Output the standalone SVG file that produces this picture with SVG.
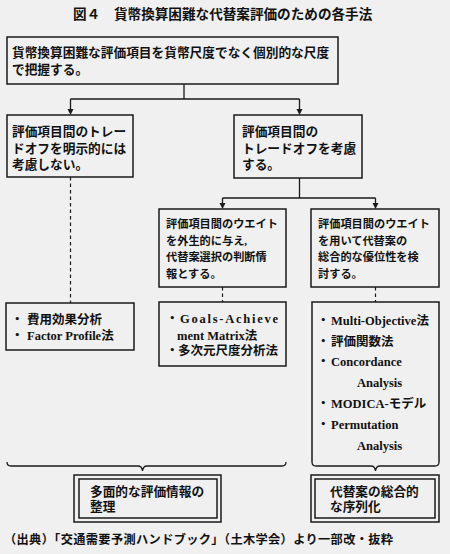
<svg xmlns="http://www.w3.org/2000/svg" width="450" height="554" viewBox="0 0 450 554">
<defs>
<style>
.bx{fill:none;stroke:#1a1a1a;stroke-width:1.5}
.ln{fill:none;stroke:#1a1a1a;stroke-width:1.3}
.ds{fill:none;stroke:#1a1a1a;stroke-width:1.2;stroke-dasharray:3.5,3}
.t{font-family:"Liberation Serif","Noto Sans CJK JP",serif;font-weight:bold;fill:#111}
.j{font-size:12.7px}
.s{font-size:11.2px}
.m{font-size:12.5px}
</style>
</defs>
<rect width="450" height="554" fill="#f0f0f0"/>
<g id="title">
<text class="t" x="73" y="19" font-size="13.6">図４</text>
<text class="t" x="114" y="19" font-size="13.6">貨幣換算困難な代替案評価のための各手法</text>
</g>
<g id="connectors">
<path class="ln" d="M184,84 V99 M70.5,99 H299.5"/>
<path class="ln" d="M70.5,99 V110"/>
<path d="M67.5,109 L73.5,109 L70.5,115 Z" fill="#1a1a1a"/>
<path class="ln" d="M299.5,99 V110"/>
<path d="M296.5,109 L302.5,109 L299.5,115 Z" fill="#1a1a1a"/>
<path class="ln" d="M299.5,178 V198 M222.5,198 H375.5"/>
<path class="ln" d="M222.5,198 V204"/>
<path d="M219.5,203 L225.5,203 L222.5,209 Z" fill="#1a1a1a"/>
<path class="ln" d="M375.5,198 V204"/>
<path d="M372.5,203 L378.5,203 L375.5,209 Z" fill="#1a1a1a"/>
<path class="ds" d="M70.5,177 V303"/>
<path class="ds" d="M222.5,287 V302"/>
<path class="ds" d="M375.5,287 V302"/>
<path class="ln" d="M7,462 Q7,466 11,466 H138 Q142,466 142.5,471 Q143,466 147,466 H282 Q286,466 286,462"/>
<path class="ln" d="M312,462 Q312,466 316,466 H371 Q375,466 375.5,471 Q376,466 380,466 H435 Q439,466 439,462"/>
</g>
<g id="n-top">
<rect class="bx" x="7" y="37" width="331" height="47"/>
<text class="t j" x="12" y="57">貨幣換算困難な評価項目を貨幣尺度でなく個別的な尺度</text>
<text class="t j" x="12" y="74">で把握する。</text>
</g>
<g id="n-left1">
<rect class="bx" x="7" y="115" width="126" height="62"/>
<text class="t j" x="12" y="136">評価項目間のトレー</text>
<text class="t j" x="12" y="153">ドオフを明示的には</text>
<text class="t j" x="12" y="169">考慮しない。</text>
</g>
<g id="n-right1">
<rect class="bx" x="234" y="115" width="128" height="63"/>
<text class="t j" x="242" y="136">評価項目間の</text>
<text class="t j" x="242" y="153">トレードオフを考慮</text>
<text class="t j" x="242" y="169">する。</text>
</g>
<g id="n-mid2">
<rect class="bx" x="159" y="209" width="127" height="78"/>
<text class="t s" x="166" y="228">評価項目間のウエイト</text>
<text class="t s" x="166" y="245">を外生的に与え,</text>
<text class="t s" x="166" y="261">代替案選択の判断情</text>
<text class="t s" x="166" y="278">報とする。</text>
</g>
<g id="n-right2">
<rect class="bx" x="311" y="209" width="128" height="78"/>
<text class="t s" x="318" y="228">評価項目間のウエイト</text>
<text class="t s" x="318" y="245">を用いて代替案の</text>
<text class="t s" x="318" y="261">総合的な優位性を検</text>
<text class="t s" x="318" y="278">討する。</text>
</g>
<g id="n-left3">
<rect class="bx" x="6" y="303" width="128" height="47"/>
<text class="t m" x="11" y="324">・</text>
<text class="t m" x="27" y="324">費用効果分析</text>
<text class="t m" x="11" y="340">・</text>
<text class="t m" x="27" y="340">Factor  Profile法</text>
</g>
<g id="n-mid3">
<rect class="bx" x="159" y="302" width="127" height="64"/>
<text class="t m" x="166" y="323">・</text>
<text class="t m" x="180" y="323" textLength="98" lengthAdjust="spacing">Goals-Achieve</text>
<text class="t m" x="177" y="340">ment  Matrix法</text>
<text class="t m" x="166" y="355">・</text>
<text class="t m" x="178" y="355">多次元尺度分析法</text>
</g>
<g id="n-right3">
<path class="bx" d="M312,462 V302 H439 V462"/>
<text class="t m" x="317" y="325">・</text>
<text class="t m" x="331" y="325">Multi-Objective法</text>
<text class="t m" x="317" y="346">・</text>
<text class="t m" x="331" y="346">評価関数法</text>
<text class="t m" x="317" y="366">・</text>
<text class="t m" x="331" y="366">Concordance</text>
<text class="t m" x="357" y="387">Analysis</text>
<text class="t m" x="317" y="408">・</text>
<text class="t m" x="331" y="408">MODICA-モデル</text>
<text class="t m" x="317" y="429">・</text>
<text class="t m" x="331" y="429">Permutation</text>
<text class="t m" x="357" y="450">Analysis</text>
</g>
<g id="n-out-left">
<rect class="bx" x="74" y="475" width="147" height="47"/>
<rect class="bx" x="79" y="479" width="138" height="39"/>
<text class="t j" x="90" y="496">多面的な評価情報の</text>
<text class="t j" x="90" y="511">整理</text>
</g>
<g id="n-out-right">
<rect class="bx" x="311" y="475" width="128" height="47"/>
<rect class="bx" x="315" y="479" width="120" height="39"/>
<text class="t j" x="330" y="496">代替案の総合的</text>
<text class="t j" x="330" y="511">な序列化</text>
</g>
<g id="source">
<text class="t" x="4" y="544" font-size="12.2" textLength="389" lengthAdjust="spacing">（出典）「交通需要予測ハンドブック」（土木学会）より一部改・抜粋</text>
</g>
</svg>
